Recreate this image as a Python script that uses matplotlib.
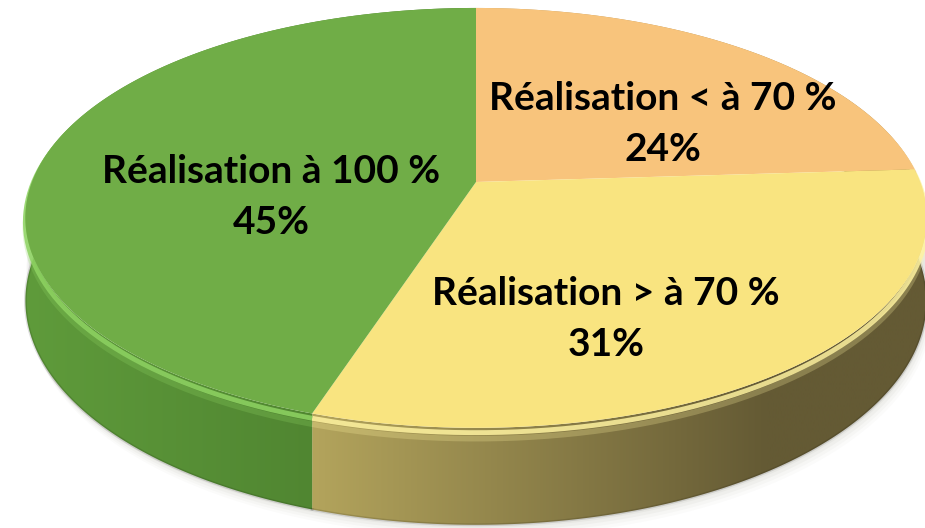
import numpy as np
import matplotlib
matplotlib.use("Agg")
from matplotlib import pyplot as plt
from matplotlib.patches import Polygon
from matplotlib.colors import to_rgb

labels = ["Réalisation < à 70 %", "Réalisation > à 70 %", "Réalisation à 100 %"]
shares = [24, 31, 45]
top_colors = ["#f8c47c", "#f9e480", "#70ad47"]
side_left = ["#c9a060", "#b3a45c", "#5f9b3b"]
side_right = ["#a07c40", "#645a34", "#487a2c"]
rim_colors = ["#fbd79a", "#fff3a0", "#8fd463"]
label_pos = [(663, 124), (606, 319), (271, 197)]

# perspective of the disk, in pixels
CX, CY = 476, 182
A, B, K = 444, 203.8, 0.171
DEPTH = 80.4


def proj(t, r=1.0, z=0.0):
    u = r * np.sin(t)
    v = -r * np.cos(t)
    w = 1 - K * v
    return CX + A * u / w, CY + (B * v + z) / w


fig = plt.figure(figsize=(9.25, 5.28), dpi=100)
ax = fig.add_axes([0, 0, 1, 1])
ax.set_xlim(0, 925)
ax.set_ylim(528, 0)
ax.axis("off")

fracs = np.array(shares) / sum(shares)
edges = np.concatenate([[0], np.cumsum(fracs)]) * 2 * np.pi

# soft shadow under the pie
tt = np.linspace(np.pi / 2 - 0.3, 3 * np.pi / 2 + 0.3, 200)
for off, al in [(12, 0.04), (9, 0.05), (6, 0.07), (3, 0.09)]:
    bx, by = proj(tt, z=DEPTH)
    tx, ty = proj(tt[::-1], z=DEPTH - 30)
    ax.fill(np.concatenate([bx, tx]) + off * 0.4, np.concatenate([by + off, ty]),
            color="#9a9a90", alpha=al, lw=0, zorder=1)

# side walls with a left-to-right gradient
for i in range(len(shares)):
    t = np.linspace(edges[i], edges[i + 1], 200)
    x1, y1 = proj(t)
    x2, y2 = proj(t[::-1], z=DEPTH)
    poly = Polygon(np.column_stack([np.concatenate([x1, x2]), np.concatenate([y1, y2])]),
                   closed=True, fc="none", ec="none")
    ax.add_patch(poly)
    xmin, xmax = min(x1.min(), x2.min()), max(x1.max(), x2.max())
    c0, c1 = np.array(to_rgb(side_left[i])), np.array(to_rgb(side_right[i]))
    s = np.linspace(0, 1, 256)
    s = np.clip(s * 1.35, 0, 1) if i == 1 else s
    grad = (c0[None, :] * (1 - s[:, None]) + c1[None, :] * s[:, None])[None, :, :]
    im = ax.imshow(grad, extent=(xmin, xmax, 528, 0), aspect="auto",
                   interpolation="bilinear", zorder=2)
    im.set_clip_path(poly)
    # darker bottom edge
    ax.plot(x2, y2, color="black", alpha=0.12, lw=2, zorder=3)
    # bevel highlight along the rim
    hx, hy = proj(t, z=4)
    ax.plot(hx, hy, color=rim_colors[i], lw=3.5, alpha=0.85, zorder=3,
            solid_capstyle="butt")
    hx, hy = proj(t, z=9)
    ax.plot(hx, hy, color=rim_colors[i], lw=4, alpha=0.25, zorder=3,
            solid_capstyle="butt")

ax.set_xlim(0, 925)
ax.set_ylim(528, 0)

# top face
for i in range(len(shares)):
    t = np.linspace(edges[i], edges[i + 1], 200)
    x, y = proj(t)
    ax.fill(np.concatenate([[CX], x]), np.concatenate([[CY], y]),
            color=top_colors[i], lw=0, zorder=4)

for lab, val, (px, py) in zip(labels, shares, label_pos):
    ax.text(px, py, "%s\n%d%%" % (lab, val), ha="center", va="center",
            multialignment="center", fontsize=28, fontweight="bold",
            family="Lato", linespacing=1.57, color="black", zorder=5)

fig.savefig("out.png", dpi=100, facecolor="white")
